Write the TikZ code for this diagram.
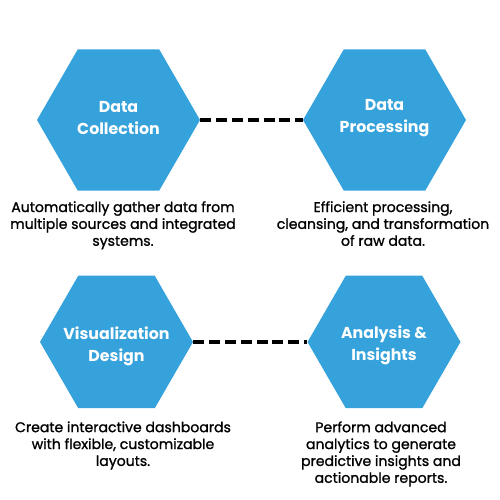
\documentclass[tikz,border=0pt]{standalone}
\usepackage{fontspec}
\setmainfont{Poppins}
\newfontfamily\descfont{Poppins}[FakeBold=1.2]
\usetikzlibrary{shapes.geometric,positioning}
\definecolor{hexblue}{RGB}{54,162,219}
\tikzset{
  hexstep/.style={regular polygon, regular polygon sides=6, fill=hexblue,
    inner sep=0pt, minimum size=#1},
  hextitle/.style={text=white, align=center, inner sep=0pt,
    font=\bfseries\fontsize{9}{12.4}\selectfont},
  desc/.style={align=center, inner sep=0pt, font=\descfont\fontsize{8}{9.6}\selectfont},
  dashlink/.style={line width=1.9pt, dash pattern=on 6.2pt off 2.8pt}
}
\begin{document}
\begin{tikzpicture}
\useasboundingbox (0,0) rectangle (10,10);

% hexagons
\node[hexstep=3.26cm] (collect) at (2.37,7.6) {};
\node[hexstep=3.26cm] (process) at (7.69,7.6) {};
\node[hexstep=3.06cm] (visual) at (2.33,3.16) {};
\node[hexstep=3.06cm] (analysis) at (7.68,3.16) {};

% titles
\node[hextitle, yshift=0.04cm] (collecttitle) at (collect) {Data\\Collection};
\node[hextitle, yshift=0.04cm] (processtitle) at (process) {Data\\Processing};
\node[hextitle, yshift=-0.08cm] (visualtitle) at (visual) {Visualization\\Design};
\node[hextitle, yshift=-0.06cm] (analysistitle) at (analysis) {Analysis \&\\Insights};

% links
\draw[dashlink] (collect.east) -- (process.west);
\draw[dashlink] (visual.east) -- (analysis.west);

% descriptions
\node[desc, below=0.2cm of collect, xshift=0.09cm] (collectdesc)
  {Automatically gather data from\\multiple sources and integrated\\systems.};
\node[desc, below=0.2cm of process, xshift=-0.03cm] (processdesc)
  {Efficient processing,\\cleansing, and transformation\\of raw data.};
\node[desc, below=0.25cm of visual, xshift=0.13cm] (visualdesc)
  {Create interactive dashboards\\with flexible, customizable\\layouts.};
\node[desc, below=0.25cm of analysis, xshift=-0.06cm] (analysisdesc)
  {Perform advanced\\analytics to generate\\predictive insights and\\actionable reports.};
\end{tikzpicture}
\end{document}
